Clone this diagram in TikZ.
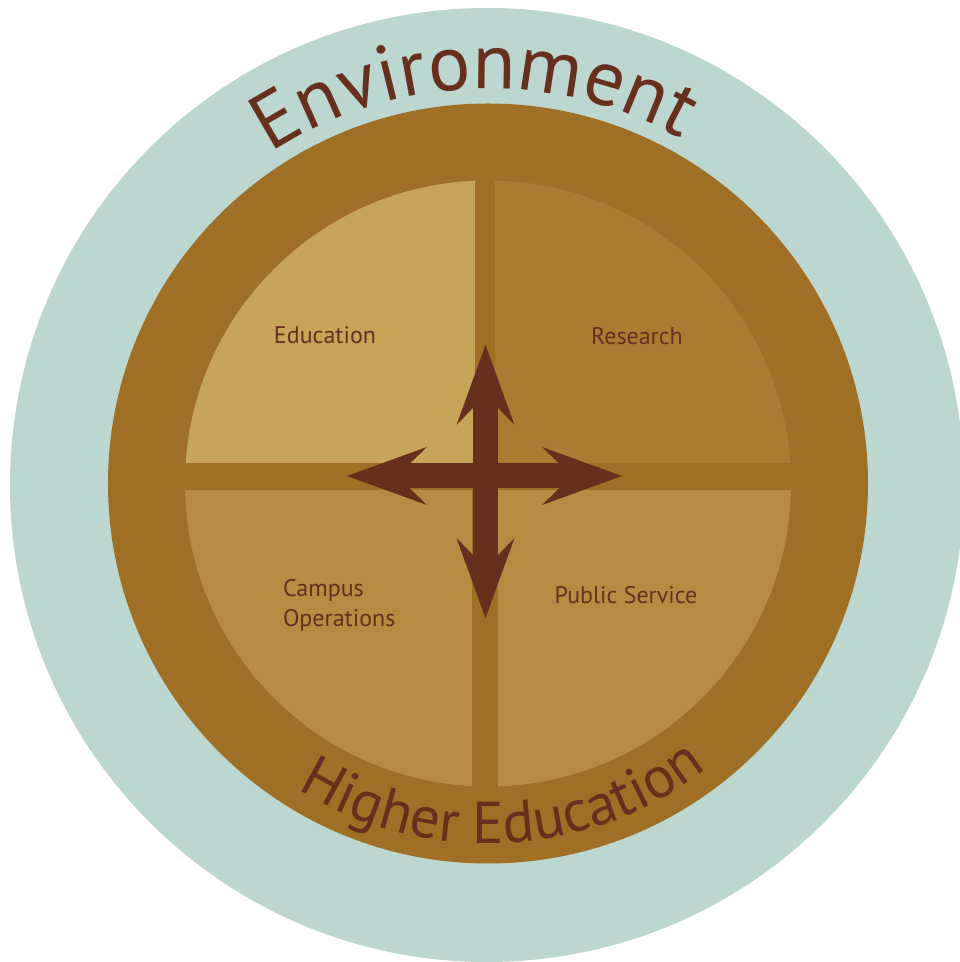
\documentclass[tikz,border=0pt]{standalone}
\usepackage{fontspec}
\setmainfont{PT Sans}
\usetikzlibrary{arrows.meta, decorations.text}

\definecolor{envgreen}{HTML}{BCD7CF}
\definecolor{ringbrown}{HTML}{9F6F26}
\definecolor{edufill}{HTML}{C6A458}
\definecolor{resfill}{HTML}{AA7C32}
\definecolor{lowfill}{HTML}{B88B42}
\definecolor{darkbrown}{HTML}{672F1E}

\newcommand{\envtextfont}{\fontsize{39.5}{39.5}\selectfont\color{darkbrown}}
\newcommand{\hetextfont}{\fontsize{29.5}{29.5}\selectfont\color{darkbrown}}

\tikzset{
  quarter label/.style={text=darkbrown, font=\fontsize{12}{15}\selectfont},
  big arrow/.style={draw=darkbrown, line width=12.5pt, >={Stealth[length=40pt, width=29pt, inset=15pt, line width=0pt]}, <->},
  ring text/.style={decorate, decoration={text along path, text align=center, text={#1}}}
}

\begin{document}
\begin{tikzpicture}[x=0.5pt, y=0.5pt]
    \useasboundingbox (-488,-478.5) rectangle (471,483.5);

    % the three circles
    \fill[envgreen] (-1,-1.5) circle[radius=477];
    \fill[ringbrown] (0,0) circle[radius=380];
    \begin{scope}
        \clip (0,0) circle[radius=303];
        \fill[edufill] (-400,20.5) rectangle (-13,400);
        \fill[resfill] (7,20.5) rectangle (400,400);
        \fill[lowfill] (-400,-6.5) rectangle (-16,-400);
        \fill[lowfill] (10,-6.5) rectangle (400,-400);
    \end{scope}

    \node[quarter label] (edu) at (-163,148.5) {Education};
    \node[quarter label] (res) at (149,147.5) {Research};
    \node[quarter label, align=left, anchor=west] (campus) at (-212,-121.5) {Campus\\Operations};
    \node[quarter label] (pub) at (138,-111.5) {Public Service};

    % the cross of arrows
    \coordinate (up tip) at (-2.5,138.5);
    \coordinate (down tip) at (-2.5,-134.5);
    \coordinate (left tip) at (-141,7.5);
    \coordinate (right tip) at (134,7.5);
    \draw[big arrow] (up tip) -- (down tip);
    \draw[big arrow] (left tip) -- (right tip);

    % curved titles
    \path[ring text={|\envtextfont|Environment}] (152:395) arc[start angle=152, end angle=32, radius=395];
    \path[ring text={|\hetextfont|Higher Education}] (212.8:360) arc[start angle=212.8, end angle=332.8, radius=360];
\end{tikzpicture}
\end{document}
